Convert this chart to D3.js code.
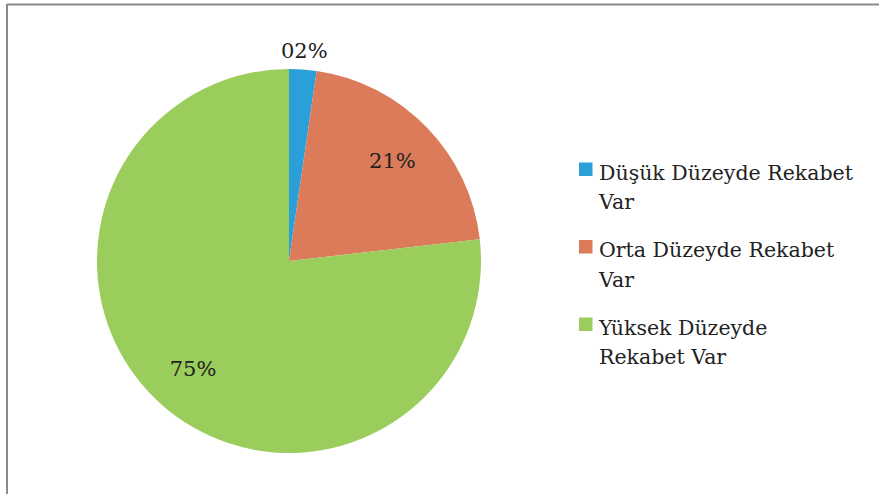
<!DOCTYPE html>
<html>
<head>
<meta charset="utf-8">
<script src="https://cdn.jsdelivr.net/npm/d3@7"></script>
<style>
  body { margin: 0; background: #fff; }
  svg { display: block; }
</style>
</head>
<body>
<svg id="chart" width="879" height="494"></svg>
<script>
const categories = ["Düşük Düzeyde Rekabet Var", "Orta Düzeyde Rekabet Var", "Yüksek Düzeyde Rekabet Var"];
const values = [2.3, 20.9, 76.8];
const valueLabels = ["02%", "21%", "75%"];
const legendLines = [["Düşük Düzeyde Rekabet", "Var"], ["Orta Düzeyde Rekabet", "Var"], ["Yüksek Düzeyde", "Rekabet Var"]];
const colors = ["#2ba0d8", "#db7b5a", "#9bcd5c"];

const svg = d3.select("#chart");
const font = "'DejaVu Serif', serif";

// frame (only top and left edges visible in the crop)
svg.append("line").attr("x1", 7).attr("x2", 879).attr("y1", 4.5).attr("y2", 4.5)
  .attr("stroke", "#8a8a8a").attr("stroke-width", 2);
svg.append("line").attr("x1", 7).attr("x2", 7).attr("y1", 4).attr("y2", 494)
  .attr("stroke", "#8a8a8a").attr("stroke-width", 2);

const cx = 289, cy = 261, r = 192;
const data = categories.map((c, i) => ({name: c, value: values[i], label: valueLabels[i], color: colors[i]}));

const pie = d3.pie().value(d => d.value).sort(null);
const arc = d3.arc().innerRadius(0).outerRadius(r);
const arcs = pie(data);

const g = svg.append("g").attr("transform", `translate(${cx},${cy})`);
g.selectAll("path.slice").data(arcs).join("path")
  .attr("class", "slice")
  .attr("d", arc)
  .attr("fill", d => d.data.color);

const inner = d3.arc().innerRadius(r * 0.75).outerRadius(r * 0.75);
const outer = d3.arc().innerRadius(r * 1.1).outerRadius(r * 1.1);
g.selectAll("text.lbl").data(arcs).join("text")
  .attr("class", "lbl")
  .attr("transform", d => {
    const small = (d.endAngle - d.startAngle) < 0.3;
    const p = (small ? outer : inner).centroid(d);
    return `translate(${p[0]},${p[1]})`;
  })
  .attr("text-anchor", "middle")
  .attr("dy", "0.35em")
  .attr("font-family", font)
  .attr("font-size", 21)
  .attr("fill", "#222")
  .text(d => d.data.label);

// legend
const legend = svg.append("g").attr("transform", "translate(579,162.5)");
const item = legend.selectAll("g").data(data).join("g")
  .attr("transform", (d, i) => `translate(0,${i * 77.5})`);
item.append("rect").attr("width", 13.5).attr("height", 13.5).attr("fill", d => d.color);
item.append("text")
  .attr("x", 20)
  .attr("y", 17)
  .attr("font-family", font)
  .attr("font-size", 20.5)
  .attr("fill", "#222")
  .selectAll("tspan").data((d, i) => legendLines[i]).join("tspan")
  .attr("x", 20)
  .attr("dy", (d, i) => i === 0 ? 0 : 29.5)
  .text(d => d);
</script>
</body>
</html>
